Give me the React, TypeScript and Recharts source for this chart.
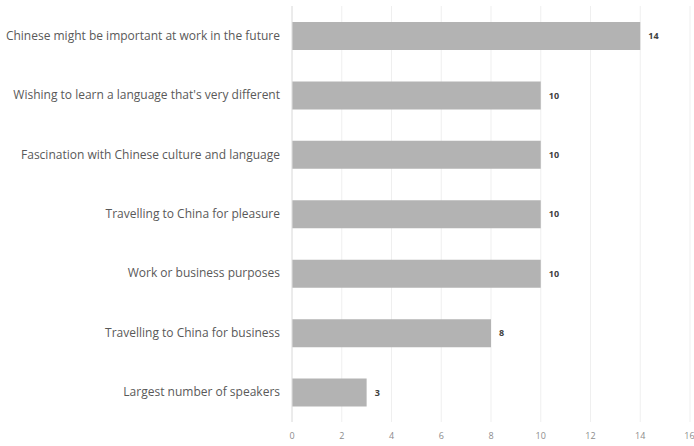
import { BarChart, Bar, XAxis, YAxis, CartesianGrid, LabelList } from 'recharts'

const reasons = [
  'Chinese might be important at work in the future',
  "Wishing to learn a language that's very different",
  'Fascination with Chinese culture and language',
  'Travelling to China for pleasure',
  'Work or business purposes',
  'Travelling to China for business',
  'Largest number of speakers',
]
const counts = [14, 10, 10, 10, 10, 8, 3]
const xTicks = [0, 2, 4, 6, 8, 10, 12, 14, 16]

const data = reasons.map((name, i) => ({ name, total: counts[i] }))

// plain one-line tick so long reasons don't get wrapped
const ReasonTick = (props: any) => {
  const { x, y, payload } = props
  return (
    <text x={x - 4} y={y} dy={4} textAnchor="end" fontSize={12} fill="#595959" fontFamily="Open Sans">
      {payload.value}
    </text>
  )
}

export default function App() {
  return (
    <div style={{ position: 'absolute', left: 0, top: 0, fontFamily: 'Open Sans' }}>
      <BarChart
        width={694}
        height={446}
        data={data}
        layout="vertical"
        margin={{ top: 6, right: 4, left: 0, bottom: 4 }}
        barSize={28}
      >
        <CartesianGrid horizontal={false} stroke="#efefef" />
        <XAxis
          type="number"
          domain={[0, 16]}
          ticks={xTicks}
          axisLine={false}
          tickLine={false}
          fontSize={9}
          tick={{ fill: '#8c8c8c', dy: 3 }}
          height={20}
        />
        <YAxis
          type="category"
          dataKey="name"
          width={292}
          tickLine={false}
          axisLine={{ stroke: '#e0e0e0' }}
          tick={<ReasonTick />}
        />
        <Bar dataKey="total" fill="#b3b3b3" isAnimationActive={false}>
          <LabelList dataKey="total" position="right" offset={8} fill="#404040" fontSize={9} fontWeight="bold" />
        </Bar>
      </BarChart>
    </div>
  )
}
